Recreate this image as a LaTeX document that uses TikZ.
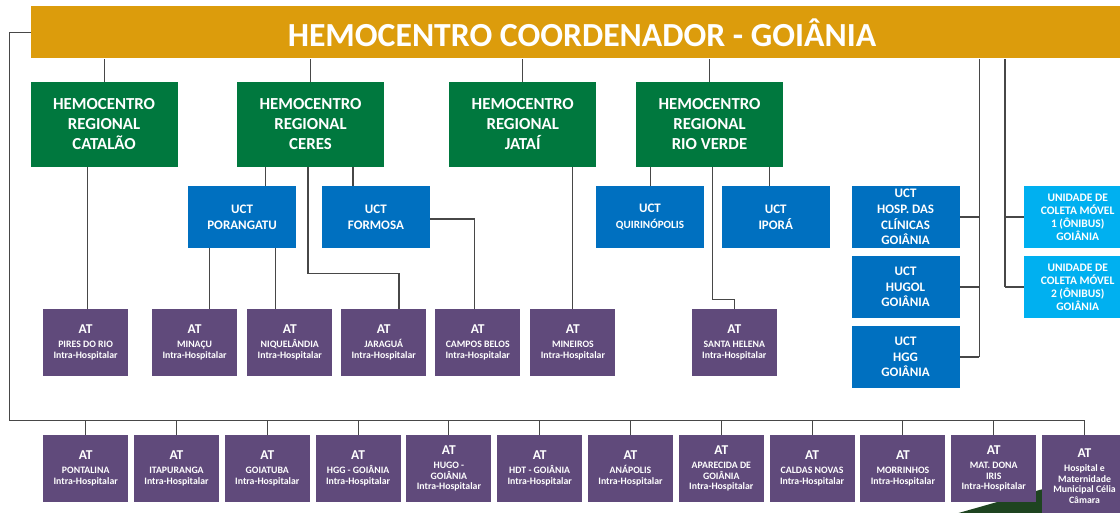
\documentclass[tikz,border=0pt]{standalone}
\usepackage{fontspec}
\setmainfont{Carlito}
\usetikzlibrary{positioning,calc}

\definecolor{hcgold}{RGB}{220,156,12}
\definecolor{hcgreen}{RGB}{0,120,62}
\definecolor{hcblue}{RGB}{0,112,192}
\definecolor{hclight}{RGB}{0,176,240}
\definecolor{hcpurple}{RGB}{96,74,123}
\definecolor{hcwedge}{RGB}{30,68,32}

\newcommand{\atfont}{\fontsize{13.5}{13.5}\selectfont}

\begin{document}
\begin{tikzpicture}[
        x=1pt, y=-1pt,
        coordbar/.style={rectangle, fill=hcgold, minimum width=1102pt, minimum height=52pt, text=white, font=\fontsize{33.7}{36}\selectfont\bfseries},
        regional/.style={rectangle, fill=hcgreen, minimum width=147pt, minimum height=85pt, inner sep=1pt, text=white, align=center, font=\fontsize{16.8}{20}\selectfont\bfseries},
        uct/.style={rectangle, fill=hcblue, minimum width=108pt, minimum height=62pt, inner sep=1pt, text=white, align=center, font=\fontsize{13}{15.7}\selectfont\bfseries},
        coleta/.style={uct, fill=hclight, font=\fontsize{11.5}{13}\selectfont\bfseries},
        atbox/.style={rectangle, fill=hcpurple, minimum width=85pt, minimum height=67pt, inner sep=1pt, text=white, align=center, font=\fontsize{9.8}{10.9}\selectfont\bfseries},
        link/.style={draw=black!72, line width=1.1pt}
    ]
    \useasboundingbox (0,0) rectangle (1120,513);

    % background wedge
    \fill[hcwedge] (955,514) -- (1043,489) -- (1120,468) -- (1120,514) -- cycle;

    % Coordinator
    \node[coordbar] (coord) at (582,32.5) {HEMOCENTRO COORDENADOR - GOIÂNIA};

    % Regional blood centres
    \node[regional] (catalao) at (104.1,124.5) {HEMOCENTRO\\REGIONAL\\CATALÃO};
    \node[regional] (ceres) at (310.5,124.5) {HEMOCENTRO\\REGIONAL\\CERES};
    \node[regional] (jatai) at (522.7,124.5) {HEMOCENTRO\\REGIONAL\\JATAÍ};
    \node[regional] (rioverde) at (709.5,124.5) {HEMOCENTRO\\REGIONAL\\RIO VERDE};

    % UCT
    \node[uct] (porangatu) at (242.1,217) {UCT\\PORANGATU};
    \node[uct] (formosa) at (375.9,217) {UCT\\FORMOSA};
    \node[uct] (quirino) at (650,217) {UCT\\{\fontsize{11.1}{13}\selectfont QUIRINÓPOLIS}};
    \node[uct] (ipora) at (775.7,217) {UCT\\IPORÁ};
    \node[uct] (hc) at (905.6,217) {UCT\\HOSP. DAS\\CLÍNICAS\\GOIÂNIA};
    \node[uct] (hugol) at (905.6,287) {UCT\\HUGOL\\GOIÂNIA};
    \node[uct] (hgg) at (905.6,357) {UCT\\HGG\\GOIÂNIA};

    % Mobile units
    \node[coleta] (movel1) at (1077.7,217) {UNIDADE DE\\COLETA MÓVEL\\1 (ÔNIBUS)\\GOIÂNIA};
    \node[coleta] (movel2) at (1077.7,287) {UNIDADE DE\\COLETA MÓVEL\\2 (ÔNIBUS)\\GOIÂNIA};

    % AT under regional centres
    \node[atbox] (pires) at (85.6,342.5) {{\atfont AT}\\[3pt]PIRES DO RIO\\Intra-Hospitalar};
    \node[atbox] (minacu) at (194.6,342.5) {{\atfont AT}\\[3pt]MINAÇU\\Intra-Hospitalar};
    \node[atbox] (niquel) at (289.8,342.5) {{\atfont AT}\\[3pt]NIQUELÂNDIA\\Intra-Hospitalar};
    \node[atbox] (jaragua) at (383.7,342.5) {{\atfont AT}\\[3pt]JARAGUÁ\\Intra-Hospitalar};
    \node[atbox] (campos) at (477.7,342.5) {{\atfont AT}\\[3pt]CAMPOS BELOS\\Intra-Hospitalar};
    \node[atbox] (mineiros) at (572.9,342.5) {{\atfont AT}\\[3pt]MINEIROS\\Intra-Hospitalar};
    \node[atbox] (santa) at (734.3,342.5) {{\atfont AT}\\[3pt]SANTA HELENA\\Intra-Hospitalar};

    % AT under the coordinator
    \node[atbox] (pontalina) at (85.7,468.5) {{\atfont AT}\\[3pt]PONTALINA\\Intra-Hospitalar};
    \node[atbox] (itapuranga) at (176.5,468.5) {{\atfont AT}\\[3pt]ITAPURANGA\\Intra-Hospitalar};
    \node[atbox] (goiatuba) at (267.3,468.5) {{\atfont AT}\\[3pt]GOIATUBA\\Intra-Hospitalar};
    \node[atbox] (hggat) at (358.1,468.5) {{\atfont AT}\\[3pt]HGG - GOIÂNIA\\Intra-Hospitalar};
    \node[atbox] (hugo) at (448.9,468.5) {{\atfont AT}\\[3pt]HUGO -\\GOIÂNIA\\Intra-Hospitalar};
    \node[atbox] (hdt) at (539.7,468.5) {{\atfont AT}\\[3pt]HDT - GOIÂNIA\\Intra-Hospitalar};
    \node[atbox] (anapolis) at (630.5,468.5) {{\atfont AT}\\[3pt]ANÁPOLIS\\Intra-Hospitalar};
    \node[atbox] (aparecida) at (721.3,468.5) {{\atfont AT}\\[3pt]APARECIDA DE\\GOIÂNIA\\Intra-Hospitalar};
    \node[atbox] (caldas) at (812.1,468.5) {{\atfont AT}\\[3pt]CALDAS NOVAS\\Intra-Hospitalar};
    \node[atbox] (morrinhos) at (902.9,468.5) {{\atfont AT}\\[3pt]MORRINHOS\\Intra-Hospitalar};
    \node[atbox] (dona) at (993.7,468.5) {{\atfont AT}\\[3pt]MAT. DONA\\IRIS\\Intra-Hospitalar};
    \node[atbox, anchor=north, minimum height=82pt] (celia) at (1084.5,435) {{\atfont AT}\\[3pt]Hospital e\\Maternidade\\Municipal Célia\\Câmara};

    % Coordinator to regional centres
    \draw[link] (catalao.north) -- (catalao.north |- coord.south);
    \draw[link] (ceres.north) -- (ceres.north |- coord.south);
    \draw[link] (jatai.north) -- (jatai.north |- coord.south);
    \draw[link] (rioverde.north) -- (rioverde.north |- coord.south);

    % Coordinator to UCT Goiania and mobile units
    \draw[link] (hgg.east) -- ++(19.5,0) coordinate (gyR);
    \draw[link] (gyR) -- (gyR |- coord.south);
    \draw[link] (hc.east) -- (hc.east -| gyR);
    \draw[link] (hugol.east) -- (hugol.east -| gyR);
    \draw[link] (movel2.west) -- ++(-18.5,0) coordinate (mvL);
    \draw[link] (mvL) -- (mvL |- coord.south);
    \draw[link] (movel1.west) -- (movel1.west -| mvL);

    % Regional centres downwards
    \draw[link] ([xshift=1.5pt]pires.north) -- ([xshift=1.5pt]pires.north |- catalao.south);
    \draw[link] ([xshift=-45pt]ceres.south) -- ([xshift=-45pt]ceres.south |- porangatu.north);
    \draw[link] ([xshift=42.5pt]ceres.south) -- ([xshift=42.5pt]ceres.south |- formosa.north);
    \draw[link] ([xshift=-2.5pt]ceres.south) -- ++(0,106) -| ([xshift=15.3pt]jaragua.north);
    \draw[link] ([xshift=15pt]minacu.north) -- ([xshift=15pt]minacu.north |- porangatu.south);
    \draw[link] ([xshift=-14.4pt]niquel.north) -- ([xshift=-14.4pt]niquel.north |- porangatu.south);
    \draw[link] ([yshift=-2pt]formosa.east) -| ([xshift=-3.4pt]campos.north);
    \draw[link] (mineiros.north) -- (mineiros.north |- jatai.south);
    \draw[link] ([xshift=0.7pt]quirino.north) -- ([xshift=0.7pt]quirino.north |- rioverde.south);
    \draw[link] ([xshift=-6pt]ipora.north) -- ([xshift=-6pt]ipora.north |- rioverde.south);
    \draw[link] ([xshift=3pt]rioverde.south) -- ++(0,132) -| (santa.north);

    % Bus to AT row
    \coordinate (busL) at (9.6,420.7);
    \coordinate (busR) at (1084.5,420.7);
    \draw[link] (coord.west) -| (busL) -- (busR);
    \draw[link] (pontalina.north) -- (pontalina.north |- busL);
    \draw[link] (itapuranga.north) -- (itapuranga.north |- busL);
    \draw[link] (goiatuba.north) -- (goiatuba.north |- busL);
    \draw[link] (hggat.north) -- (hggat.north |- busL);
    \draw[link] (hugo.north) -- (hugo.north |- busL);
    \draw[link] (hdt.north) -- (hdt.north |- busL);
    \draw[link] (anapolis.north) -- (anapolis.north |- busL);
    \draw[link] (aparecida.north) -- (aparecida.north |- busL);
    \draw[link] (caldas.north) -- (caldas.north |- busL);
    \draw[link] (morrinhos.north) -- (morrinhos.north |- busL);
    \draw[link] (dona.north) -- (dona.north |- busL);
    \draw[link] (celia.north) -- (busR);

\end{tikzpicture}
\end{document}
